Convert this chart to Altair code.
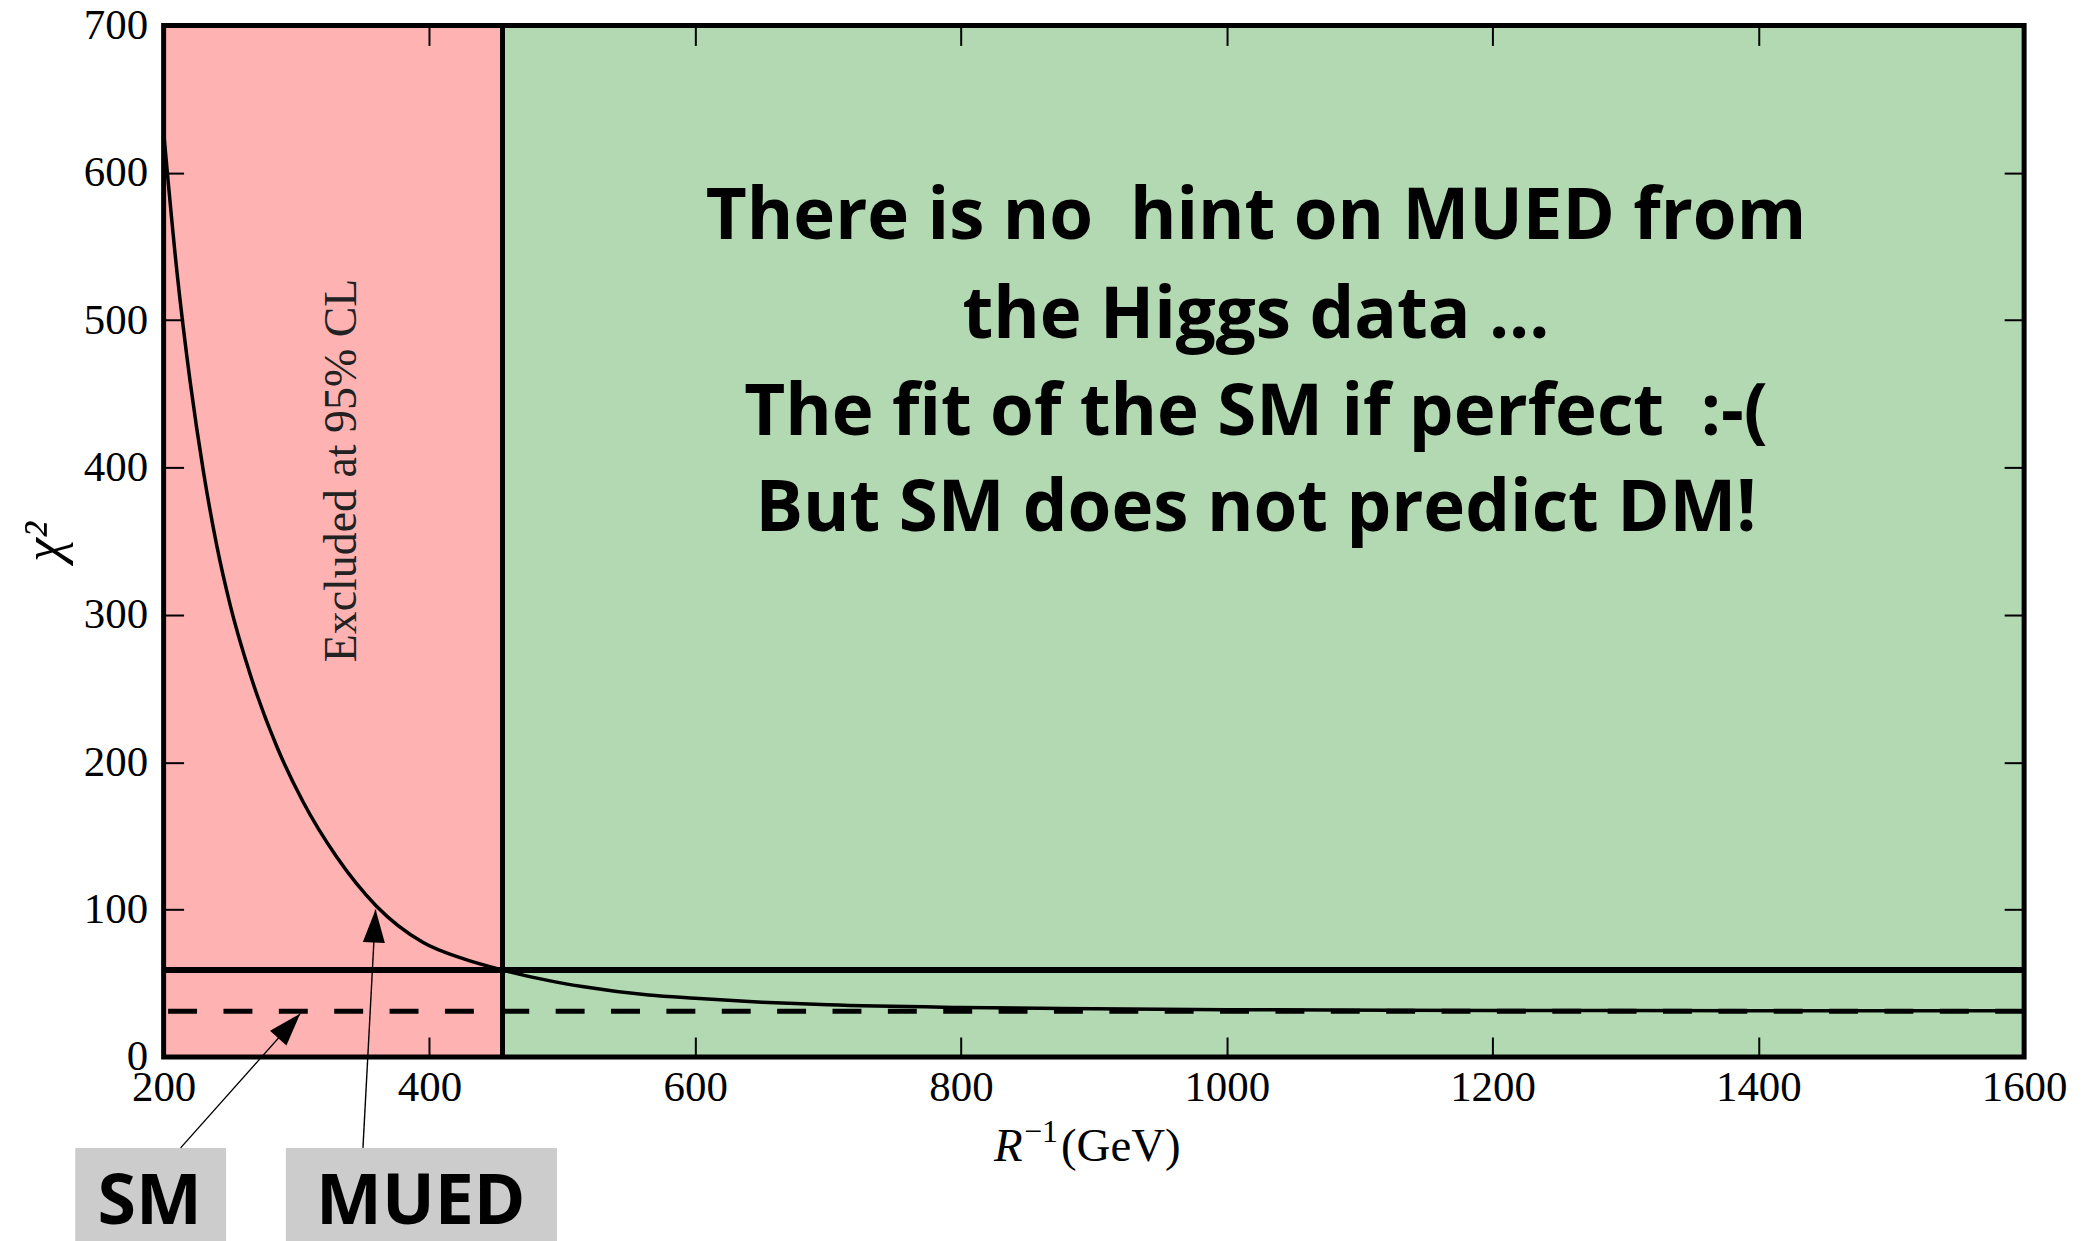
import altair as alt
import pandas as pd

# ---- data ----
r_inv = [200, 210, 220, 230, 240, 250, 265, 285, 305, 330, 360, 395, 427, 455, 490, 515, 565, 600, 650, 700, 800, 900, 1000, 1200, 1400, 1600]
chi2 = [628, 533, 458, 397, 347, 307, 260, 211, 173, 136, 102.5, 77.8, 66.2, 59, 51.8, 47.8, 42, 39.8, 37.2, 35.4, 33.6, 32.7, 32.1, 31.6, 31.4, 31.3]

sm_chi2 = 31          # dashed line (SM)
limit_chi2 = 59       # solid horizontal line (95% CL)
excl_limit = 455      # vertical boundary of excluded region

x_ticks = [200, 400, 600, 800, 1000, 1200, 1400, 1600]
y_ticks = [0, 100, 200, 300, 400, 500, 600, 700]

NB = "\u00a0"
msg_lines = ["There is no " + NB + "hint on MUED from",
             "the Higgs data ...",
             "The fit of the SM if perfect " + NB + ":-(",
             "But SM does not predict DM!"]
msg_y = [569, 502, 436, 371]
msg_x = 1022

excl_text = "Excluded at 95% CL"
excl_pos = (334, 398)

# x-axis title pieces
xt_parts = ["R", "−1", "(GeV)"]
xt_x = 900
xt_y = -61

# annotation boxes below the axes (data units)
box_labels = ["SM", "MUED"]
box_x1 = [133.5, 292]
box_x2 = [247, 496]
box_y1 = [-61.7, -61.7]
box_y2 = [-135, -135]
box_text_x = [189.5, 393.5]
box_text_y = [-99, -99]

arrow_x1 = [212.8, 350]
arrow_y1 = [-61.7, -61.7]
arrow_x2 = [302.8, 359.5]
arrow_y2 = [29.4, 100]
arrow_angle = [42, 3]

# ---- build ----
xs = alt.Scale(domain=[200, 1600], nice=False, zero=False)
ys = alt.Scale(domain=[0, 700], nice=False, zero=False)

SERIF = "Liberation Serif"
COMIC = "Open Sans"

regions = pd.DataFrame({"x": [200, excl_limit], "x2": [excl_limit, 1600],
                        "y": [0, 0], "y2": [700, 700],
                        "c": ["excl", "ok"]})
frame_df = pd.DataFrame({"x": [200], "x2": [1600], "y": [0], "y2": [700]})

axis_common = dict(domain=False, grid=False, tickSize=20, tickWidth=2, tickColor="black",
                   offset=-20, labelFlush=False, labelOverlap=False, zindex=1)

x_bottom = alt.Axis(orient="bottom", values=x_ticks, format="d",
                    labelFont=SERIF, labelFontSize=43, labelColor="black", labelPadding=10,
                    title=None, **axis_common)
y_left = alt.Axis(orient="left", values=y_ticks, format="d",
                  labelFont=SERIF, labelFontSize=43, labelColor="black", labelPadding=16,
                  title="χ²", titleFont=SERIF, titleFontSize=54, titleFontWeight="normal",
                  titleFontStyle="italic", titleColor="black", titlePadding=12, **axis_common)
x_top = alt.Axis(orient="top", values=x_ticks, labels=False, title=None, **axis_common)
y_right = alt.Axis(orient="right", values=y_ticks, labels=False, title=None, **axis_common)

pink = alt.Chart(regions[regions.c == "excl"]).mark_rect(color="#ffb2b2").encode(
    x=alt.X("x:Q", scale=xs, axis=x_bottom), x2="x2:Q",
    y=alt.Y("y:Q", scale=ys, axis=y_left), y2="y2:Q")

green = alt.Chart(regions[regions.c == "ok"]).mark_rect(color="#b2d9b2").encode(
    x=alt.X("x:Q", scale=xs, axis=x_top), x2="x2:Q",
    y=alt.Y("y:Q", scale=ys, axis=y_right), y2="y2:Q")

curve_df = pd.DataFrame({"r": r_inv, "chi2": chi2})
curve = alt.Chart(curve_df).mark_line(color="black", strokeWidth=3.5, interpolate="monotone").encode(
    x=alt.X("r:Q", scale=xs, axis=None), y=alt.Y("chi2:Q", scale=ys, axis=None))

hline = alt.Chart(pd.DataFrame({"y": [limit_chi2]})).mark_rule(color="black", strokeWidth=6).encode(
    y=alt.Y("y:Q", scale=ys, axis=None))
dline = alt.Chart(pd.DataFrame({"y": [sm_chi2]})).mark_rule(color="black", strokeWidth=5, strokeDash=[29, 26.5]).encode(
    y=alt.Y("y:Q", scale=ys, axis=None))
vline = alt.Chart(pd.DataFrame({"x": [excl_limit]})).mark_rule(color="black", strokeWidth=5).encode(
    x=alt.X("x:Q", scale=xs, axis=None))

frame = alt.Chart(frame_df).mark_rect(filled=False, stroke="black", strokeWidth=5).encode(
    x=alt.X("x:Q", scale=xs, axis=None), x2="x2:Q",
    y=alt.Y("y:Q", scale=ys, axis=None), y2="y2:Q")

excl = alt.Chart(pd.DataFrame({"x": [excl_pos[0]], "y": [excl_pos[1]], "t": [excl_text]})).mark_text(
    angle=270, font=SERIF, fontSize=46, color="#222222", align="center", baseline="middle").encode(
    x=alt.X("x:Q", scale=xs, axis=None), y=alt.Y("y:Q", scale=ys, axis=None), text="t:N")

msg = alt.Chart(pd.DataFrame({"x": [msg_x] * len(msg_lines), "y": msg_y, "t": msg_lines})).mark_text(
    font=COMIC, fontWeight="bold", fontSize=71, color="black", align="center", baseline="middle").encode(
    x=alt.X("x:Q", scale=xs, axis=None), y=alt.Y("y:Q", scale=ys, axis=None), text="t:N")

xt_df = pd.DataFrame({"x": [xt_x], "y": [xt_y]})
xt_R = alt.Chart(xt_df).mark_text(text=xt_parts[0], font=SERIF, fontStyle="italic", fontSize=47,
                                  color="black", align="left", baseline="middle", dx=-100).encode(
    x=alt.X("x:Q", scale=xs, axis=None), y=alt.Y("y:Q", scale=ys, axis=None))
xt_sup = alt.Chart(xt_df).mark_text(text=xt_parts[1], font=SERIF, fontSize=32,
                                    color="black", align="left", baseline="middle", dx=-70, dy=-15).encode(
    x=alt.X("x:Q", scale=xs, axis=None), y=alt.Y("y:Q", scale=ys, axis=None))
xt_gev = alt.Chart(xt_df).mark_text(text=xt_parts[2], font=SERIF, fontSize=47,
                                    color="black", align="left", baseline="middle", dx=-33).encode(
    x=alt.X("x:Q", scale=xs, axis=None), y=alt.Y("y:Q", scale=ys, axis=None))

boxes_df = pd.DataFrame({"x1": box_x1, "x2": box_x2, "y1": box_y1, "y2": box_y2,
                         "tx": box_text_x, "ty": box_text_y, "t": box_labels})
boxes = alt.Chart(boxes_df).mark_rect(color="#cccccc").encode(
    x=alt.X("x1:Q", scale=xs, axis=None), x2="x2:Q",
    y=alt.Y("y1:Q", scale=ys, axis=None), y2="y2:Q")
box_text = alt.Chart(boxes_df).mark_text(
    font=COMIC, fontWeight="bold", fontSize=70, color="black", align="center", baseline="middle").encode(
    x=alt.X("tx:Q", scale=xs, axis=None), y=alt.Y("ty:Q", scale=ys, axis=None), text="t:N")

arrows_df = pd.DataFrame({"x1": arrow_x1, "y1": arrow_y1, "x2": arrow_x2, "y2": arrow_y2, "a": arrow_angle})
arrow_lines = alt.Chart(arrows_df).mark_rule(color="black", strokeWidth=1.4).encode(
    x=alt.X("x1:Q", scale=xs, axis=None), y=alt.Y("y1:Q", scale=ys, axis=None),
    x2="x2:Q", y2="y2:Q")
arrow_heads = alt.Chart(arrows_df).mark_point(
    shape="M0,0 L0.67,2 L-0.67,2 Z", filled=True, color="black", opacity=1, size=1089, strokeWidth=0).encode(
    x=alt.X("x2:Q", scale=xs, axis=None), y=alt.Y("y2:Q", scale=ys, axis=None),
    angle=alt.Angle("a:Q", scale=None))

chart = alt.layer(
    pink, green, curve, hline, dline, vline, frame, excl, msg, xt_R, xt_sup, xt_gev,
    boxes, box_text, arrow_lines, arrow_heads
).resolve_axis(x="independent", y="independent").properties(
    width=1865, height=1034,
    autosize=alt.AutoSizeParams(type="none"),
    padding={"left": 156, "top": 16, "right": 50, "bottom": 190},
).configure_view(stroke=None).configure(background="white")

chart.save("out.html", embed_options={"renderer": "svg", "actions": False})
